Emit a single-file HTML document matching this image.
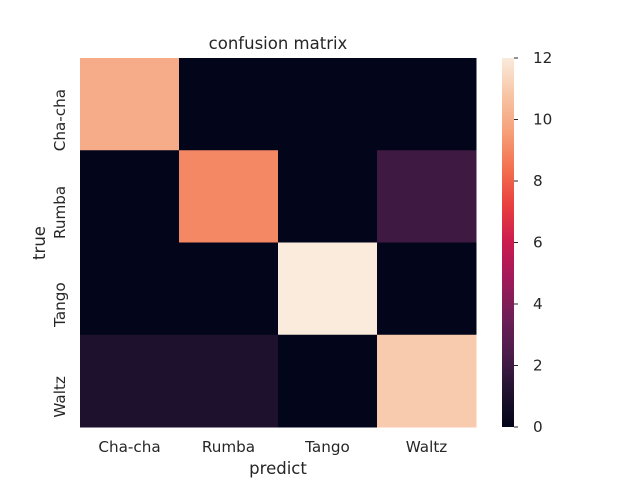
<!DOCTYPE html>
<html><head><meta charset="utf-8"><style>body{margin:0;background:#fff}svg{font-family:"DejaVu Sans","Liberation Sans",sans-serif}</style></head>
<body>
<svg id="c" width="640" height="480" viewBox="0 0 640 480">
<defs><linearGradient id="g" x1="0" y1="1" x2="0" y2="0">
<stop offset="0" stop-color="#03051a"/><stop offset="0.1" stop-color="#221331"/><stop offset="0.2" stop-color="#4c1d4b"/><stop offset="0.3" stop-color="#6f1f57"/><stop offset="0.4" stop-color="#a11a5b"/><stop offset="0.5" stop-color="#cb1b4f"/><stop offset="0.6" stop-color="#e83f3f"/><stop offset="0.7" stop-color="#f3704e"/><stop offset="0.8" stop-color="#f6a07a"/><stop offset="0.9" stop-color="#f7c5a5"/><stop offset="1" stop-color="#faebdd"/>
</linearGradient></defs>
<text x="278" y="49" font-size="16.5" text-anchor="middle" fill="#262626">confusion matrix</text>
<g id="cells"></g>
<g id="labels"></g>
<text x="278" y="474" font-size="16.5" text-anchor="middle" fill="#262626">predict</text>
<text transform="translate(45,243) rotate(-90)" font-size="16.5" text-anchor="middle" fill="#262626">true</text>
<rect x="502" y="58" width="12" height="369" fill="url(#g)"/>
<g id="cb"></g>
</svg>
<script>
const categories=["Cha-cha","Rumba","Tango","Waltz"];
const row0=[10,0,0,0];
const row1=[0,9,0,2];
const row2=[0,0,12,0];
const row3=[1,1,0,11];
const cbTicks=[0,2,4,6,8,10,12];
const vmin=0,vmax=12;
const stops=[[0,[3,5,26]],[0.1,[34,19,49]],[0.2,[76,29,75]],[0.3,[111,31,87]],[0.4,[161,26,91]],[0.5,[203,27,79]],[0.6,[232,63,63]],[0.7,[243,112,78]],[0.8,[246,160,122]],[0.9,[247,197,165]],[1,[250,235,221]]];
function color(v){const t=(v-vmin)/(vmax-vmin);for(let i=1;i<stops.length;i++){if(t<=stops[i][0]){const a=stops[i-1],b=stops[i],f=(t-a[0])/(b[0]-a[0]);const c=a[1].map((x,k)=>Math.round(x+(b[1][k]-x)*f));return `rgb(${c})`;}}return "rgb(250,235,221)";}
const X0=80,X1=476,Y0=58,Y1=427;
const cw=(X1-X0)/categories.length,ch=(Y1-Y0)/categories.length;
const xS=i=>X0+i*cw,yS=i=>Y0+i*ch;
const ns="http://www.w3.org/2000/svg";
const rows=[row0,row1,row2,row3];
const cells=document.getElementById('cells'),labels=document.getElementById('labels'),cb=document.getElementById('cb');
rows.forEach((r,i)=>r.forEach((v,j)=>{const e=document.createElementNS(ns,'rect');
e.setAttribute('x',xS(j));e.setAttribute('y',yS(i));e.setAttribute('width',cw+0.5);e.setAttribute('height',ch+0.5);e.setAttribute('fill',color(v));


cells.appendChild(e);}));
categories.forEach((c,i)=>{
const t=document.createElementNS(ns,'text');t.setAttribute('x',xS(i)+cw/2);t.setAttribute('y',452);t.setAttribute('font-size','15.2');t.setAttribute('text-anchor','middle');t.setAttribute('fill','#262626');t.textContent=c;


labels.appendChild(t);
const u=document.createElementNS(ns,'text');const yy=yS(i)+ch/2+16;u.setAttribute('transform',`translate(65,${yy}) rotate(-90)`);u.setAttribute('font-size','15.2');u.setAttribute('text-anchor','middle');u.setAttribute('fill','#262626');u.textContent=c;


labels.appendChild(u);});
cbTicks.forEach(v=>{const y=Y1-(v-vmin)/(vmax-vmin)*(Y1-Y0);
const l=document.createElementNS(ns,'line');l.setAttribute('x1',514);l.setAttribute('x2',518);l.setAttribute('y1',y);l.setAttribute('y2',y);l.setAttribute('stroke','#262626');


cb.appendChild(l);
const t=document.createElementNS(ns,'text');t.setAttribute('x',533);t.setAttribute('y',y+5);t.setAttribute('font-size','15.2');t.setAttribute('fill','#262626');t.textContent=v;


cb.appendChild(t);});
</script>
</body></html>
